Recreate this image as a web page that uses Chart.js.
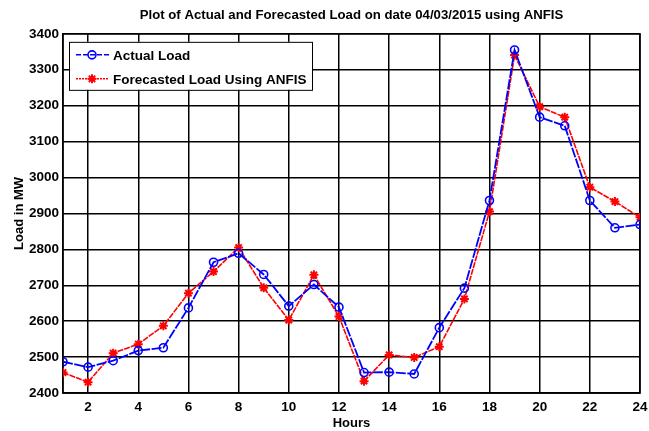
<!DOCTYPE html>
<html>
<head>
<meta charset="utf-8">
<script src="https://cdn.jsdelivr.net/npm/chart.js@4/dist/chart.umd.min.js"></script>
<style>
html,body{margin:0;padding:0;background:#fff;}
canvas{display:block;}
</style>
</head>
<body>
<canvas id="c" width="649" height="431"></canvas>
<script>
const hours = [1,2,3,4,5,6,7,8,9,10,11,12,13,14,15,16,17,18,19,20,21,22,23,24];
const actualLoad = [2487,2472,2490,2518,2526,2637,2764,2789,2730,2642,2702,2639,2457,2458,2453,2582,2692,2936,3355,3168,3144,2936,2860,2869];
const forecastLoad = [2457,2430,2511,2536,2587,2678,2738,2805,2693,2603,2729,2613,2433,2506,2499,2529,2662,2905,3341,3197,3168,2973,2933,2889];
const xTicks = [2,4,6,8,10,12,14,16,18,20,22,24];
const yTicks = [2400,2500,2600,2700,2800,2900,3000,3100,3200,3300,3400];
const seriesNames = ['Actual Load','Forecasted Load Using ANFIS'];
const titleText = 'Plot of Actual and Forecasted Load on date 04/03/2015 using ANFIS';

const FONT = "'Liberation Sans', Arial, sans-serif";

const frame = {
  id:'frame',
  beforeDatasetsDraw(chart){
    const {ctx, chartArea:a} = chart;
    ctx.save();
    ctx.strokeStyle = '#000';
    ctx.lineWidth = 1.5;
    ctx.strokeRect(a.left, a.top, a.right-a.left, a.bottom-a.top);
    ctx.restore();
  }
};

const legendBox = {
  id:'legendBox',
  afterDatasetsDraw(chart){
    const {ctx, chartArea:a} = chart;
    const x0 = a.left + 6, y0 = a.top + 8, w = 243, h = 48;
    ctx.save();
    ctx.fillStyle = '#fff';
    ctx.fillRect(x0, y0, w, h);
    ctx.strokeStyle = '#000';
    ctx.lineWidth = 1;
    ctx.strokeRect(x0+0.5, y0+0.5, w, h);
    const rows = [y0+13, y0+37];
    chart.data.datasets.forEach((ds, i) => {
      const yy = rows[i];
      ctx.strokeStyle = ds.borderColor;
      ctx.lineWidth = 1.5;
      ctx.setLineDash(i === 0 ? [5,2] : [2,1]);
      ctx.beginPath(); ctx.moveTo(x0+7, yy); ctx.lineTo(x0+40, yy); ctx.stroke();
      ctx.setLineDash([]);
      ctx.lineWidth = ds.pointBorderWidth;
      ctx.strokeStyle = ds.pointBorderColor;
      ctx.fillStyle = ds.pointBackgroundColor;
      if (ds.pointStyle === 'circle') {
        ctx.beginPath();
        ctx.arc(x0+23, yy, ds.pointRadius, 0, Math.PI*2);
        ctx.stroke();
      } else {
        Chart.helpers.drawPoint(ctx, {pointStyle: ds.pointStyle, radius: ds.pointRadius, borderWidth: ds.pointBorderWidth, rotation:0}, x0+23, yy);
      }
      ctx.fillStyle = '#000';
      ctx.font = "bold 13.5px " + FONT;
      ctx.textBaseline = 'middle';
      ctx.textAlign = 'left';
      ctx.fillText(seriesNames[i], x0+44, yy+1);
    });
    ctx.restore();
  }
};

new Chart(document.getElementById('c'), {
  type:'line',
  data:{
    labels: hours,
    datasets:[
      {
        label: seriesNames[0],
        data: hours.map((h,i)=>({x:h, y:actualLoad[i]})),
        borderColor:'#0000ff',
        borderWidth:1.8,
        borderDash:[10,1.5],
        pointStyle:'circle',
        pointRadius:4,
        pointBorderWidth:1.6,
        pointBorderColor:'#0000ff',
        pointBackgroundColor:'rgba(0,0,0,0)',
        tension:0,
        fill:false
      },
      {
        label: seriesNames[1],
        data: hours.map((h,i)=>({x:h, y:forecastLoad[i]})),
        borderColor:'#ff0000',
        borderWidth:1.6,
        borderDash:[6,1],
        pointStyle:'star',
        pointRadius:4.5,
        pointBorderWidth:2,
        pointBorderColor:'#ff0000',
        pointBackgroundColor:'#ff0000',
        tension:0,
        fill:false
      }
    ]
  },
  options:{
    responsive:false,
    animation:false,
    events:[],
    layout:{padding:{left:0,right:0,top:0,bottom:0}},
    plugins:{
      legend:{display:false},
      tooltip:{enabled:false},
      title:{
        display:true,
        fullSize:false,
        text:titleText,
        color:'#000',
        font:{family:FONT, size:13.2, weight:'bold', lineHeight:1.2},
        padding:{top:7, bottom:11}
      }
    },
    scales:{
      x:{
        type:'linear',
        min:1, max:24,
        afterBuildTicks(s){ s.ticks = xTicks.map(v=>({value:v})); },
        afterFit(s){ s.height = 38; s.paddingRight = 9; s.paddingLeft = 0; },
        grid:{color:'#000', lineWidth:1.5, drawTicks:false},
        border:{color:'#000', width:1.5},
        ticks:{color:'#000', font:{family:FONT, size:13.5, weight:'bold'}, padding:6, maxRotation:0, autoSkip:false,
               callback:(v)=>String(v)},
        title:{display:true, text:'Hours', color:'#000', font:{family:FONT, size:13, weight:'bold'}, padding:{top:0,bottom:0}}
      },
      y:{
        min:2400, max:3400,
        afterBuildTicks(s){ s.ticks = yTicks.map(v=>({value:v})); },
        afterFit(s){ s.width = 63; },
        grid:{color:'#000', lineWidth:1.5, drawTicks:false},
        border:{color:'#000', width:1.5},
        ticks:{color:'#000', font:{family:FONT, size:13.5, weight:'bold'}, padding:4, callback:(v)=>String(v)},
        title:{display:true, text:'Load in MW', color:'#000', font:{family:FONT, size:13, weight:'bold'}, padding:{top:12,bottom:0}}
      }
    }
  },
  plugins:[frame, legendBox]
});
</script>
</body>
</html>
